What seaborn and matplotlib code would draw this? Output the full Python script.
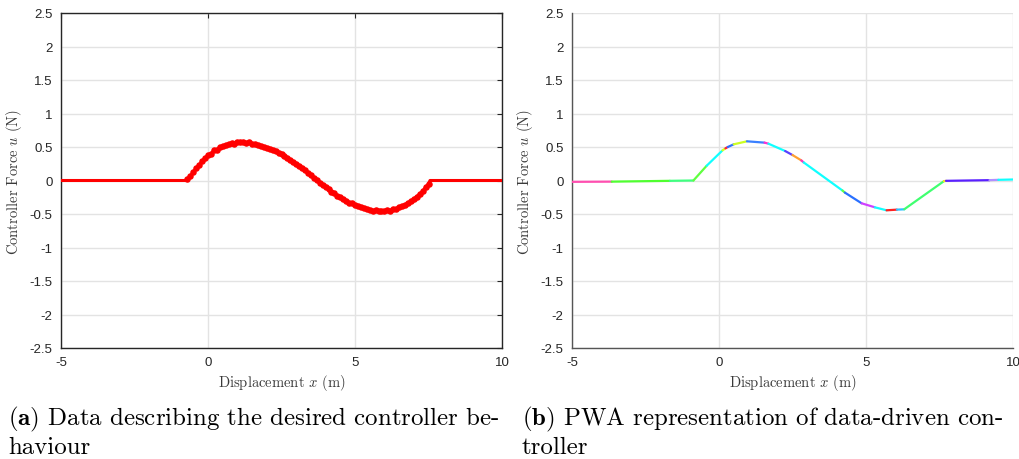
import matplotlib
matplotlib.use("Agg")
import matplotlib.pyplot as plt
import seaborn as sns
import pandas as pd

# ---------------- data ----------------
data_x = [-5.0, -0.75, -0.7, -0.6, -0.5, -0.4, -0.3, -0.2, -0.1, 0.0, 0.1, 0.2, 0.3, 0.4, 0.5,
          0.6, 0.7, 0.8, 0.9, 1.0, 1.1, 1.2, 1.3, 1.4, 1.5, 1.6, 1.7, 1.8, 1.9, 2.0,
          2.1, 2.2, 2.3, 2.4, 2.5, 2.6, 2.7, 2.8, 2.9, 3.0, 3.1, 3.2, 3.3, 3.4, 3.5,
          3.6, 3.7, 3.8, 3.9, 4.0, 4.1, 4.2, 4.3, 4.4, 4.5, 4.6, 4.7, 4.8, 4.9, 5.0,
          5.1, 5.2, 5.3, 5.4, 5.5, 5.6, 5.7, 5.8, 5.9, 6.0, 6.1, 6.2, 6.3, 6.4, 6.5,
          6.6, 6.7, 6.8, 6.9, 7.0, 7.1, 7.2, 7.3, 7.4, 7.5, 7.55, 10.0]
data_y = [0.0, 0.0, 0.02, 0.07, 0.12, 0.19, 0.23, 0.29, 0.33, 0.38, 0.40, 0.45, 0.46, 0.50, 0.51,
          0.53, 0.54, 0.56, 0.55, 0.58, 0.57, 0.58, 0.56, 0.575, 0.55, 0.55, 0.53, 0.52, 0.50, 0.49,
          0.47, 0.45, 0.44, 0.41, 0.39, 0.36, 0.34, 0.30, 0.28, 0.25, 0.21, 0.18, 0.15, 0.11, 0.08,
          0.04, 0.01, -0.03, -0.06, -0.10, -0.13, -0.17, -0.19, -0.23, -0.25, -0.28, -0.31, -0.33, -0.34, -0.37,
          -0.38, -0.40, -0.41, -0.43, -0.44, -0.45, -0.44, -0.46, -0.45, -0.46, -0.44, -0.45, -0.42, -0.42, -0.40,
          -0.38, -0.36, -0.34, -0.31, -0.28, -0.24, -0.20, -0.16, -0.10, -0.05, 0.0, 0.0]

pwa_x = [-5.0, -3.65, -1.67, -0.87, -0.42, 0.12, 0.22, 0.30, 0.50, 0.95, 1.55, 1.68, 2.25, 2.50,
         2.80, 2.88, 4.20, 4.28, 4.85, 5.30, 5.70, 6.05, 6.30, 7.65, 7.72, 9.20, 9.50, 10.0]
pwa_y = [-0.02, -0.017, -0.005, 0.0, 0.22, 0.45, 0.48, 0.50, 0.54, 0.585, 0.565, 0.55, 0.44, 0.38,
         0.30, 0.27, -0.15, -0.18, -0.34, -0.40, -0.445, -0.435, -0.43, -0.01, -0.005, 0.005, 0.01, 0.015]
seg_colors = ["#ff4fb0", "#50ff30", "#40ff80", "#60ff40", "#10ffff", "#d8ff20", "#ff2040",
              "#3070ff", "#ccff20", "#3a80ff", "#ff30d0", "#10ffff", "#5a40ff", "#ffa030",
              "#ff30c0", "#10ffff", "#60ff40", "#2a70ff", "#d040ff", "#10ffff", "#ff2020",
              "#30c0ff", "#40ff70", "#ffe020", "#5a20ff", "#b090ff", "#10ffff"]

xlabel = r"Displacement $x$ (m)"
ylabel = r"Controller Force $u$ (N)"
caption_a = [r"$\mathbf{(a)}$ Data describing the desired controller be-", "haviour"]
caption_b = [r"$\mathbf{(b)}$ PWA representation of data-driven con-", "troller"]
xticks = [-5, 0, 5, 10]
yticks = [-2.5, -2, -1.5, -1, -0.5, 0, 0.5, 1, 1.5, 2, 2.5]

# ---------------- style ----------------
sns.set_style("white")
plt.rcParams["font.family"] = ["Liberation Sans", "DejaVu Sans"]
plt.rcParams["mathtext.fontset"] = "cm"
plt.rcParams["axes.unicode_minus"] = False

W, H = 1019, 460
fig = plt.figure(figsize=(W / 100, H / 100), dpi=100)

def ax_at(x0, x1, ytop, ybot):
    return fig.add_axes([x0 / W, 1 - ybot / H, (x1 - x0) / W, (ybot - ytop) / H])

axL = ax_at(61, 502, 14, 349)
axR = ax_at(572, 1013, 14, 349)

df_data = pd.DataFrame({"x": data_x, "y": data_y})
sns.lineplot(data=df_data, x="x", y="y", ax=axL, color="#ff0000", linewidth=2.2,
             estimator=None, sort=True, zorder=3)
inner = df_data[(df_data["x"] > -0.75) & (df_data["x"] < 7.55)]
sns.scatterplot(data=inner, x="x", y="y", ax=axL, color="#ff0000", s=22, marker="o",
                linewidth=0, zorder=4)

rows = []
for i in range(len(seg_colors)):
    rows.append({"x": pwa_x[i], "y": pwa_y[i], "seg": i})
    rows.append({"x": pwa_x[i + 1], "y": pwa_y[i + 1], "seg": i})
df_pwa = pd.DataFrame(rows)
sns.lineplot(data=df_pwa, x="x", y="y", hue="seg", palette=seg_colors, ax=axR,
             linewidth=1.6, estimator=None, sort=False, legend=False, zorder=3)

for ax, boxed in ((axL, True), (axR, False)):
    ax.set_xlim(-5, 10)
    ax.set_ylim(-2.5, 2.5)
    ax.set_xticks(xticks)
    ax.set_yticks(yticks)
    ax.set_xticklabels([f"{t:g}" for t in xticks])
    ax.set_yticklabels([f"{t:g}" for t in yticks])
    ax.grid(True, color="#e3e3e3", linewidth=1.0, zorder=0)
    ax.set_axisbelow(True)
    ax.set_xlabel(xlabel, fontsize=10.5, color="#3a3a3a", family="cmr10", labelpad=3)
    ax.set_ylabel(ylabel, fontsize=10.5, color="#3a3a3a", family="cmr10", labelpad=4)
    ax.tick_params(axis="both", direction="in", length=3.6, width=0.8, labelsize=9.5,
                   colors="#262626", pad=6, top=boxed, right=boxed)
    for side in ("left", "bottom"):
        ax.spines[side].set_color("#262626" if boxed else "#555555")
        ax.spines[side].set_linewidth(1.0)
    for side in ("top", "right"):
        ax.spines[side].set_visible(boxed)
        ax.spines[side].set_color("#262626")
        ax.spines[side].set_linewidth(1.0)

cap_kw = dict(fontsize=17.9, family="cmr10", color="black", va="baseline", ha="left")
fig.text(8 / W, 1 - 425 / H, caption_a[0], **cap_kw)
fig.text(8 / W, 1 - 454 / H, caption_a[1], **cap_kw)
fig.text(522 / W, 1 - 425 / H, caption_b[0], **cap_kw)
fig.text(522 / W, 1 - 454 / H, caption_b[1], **cap_kw)

fig.savefig("out.png", dpi=100)
